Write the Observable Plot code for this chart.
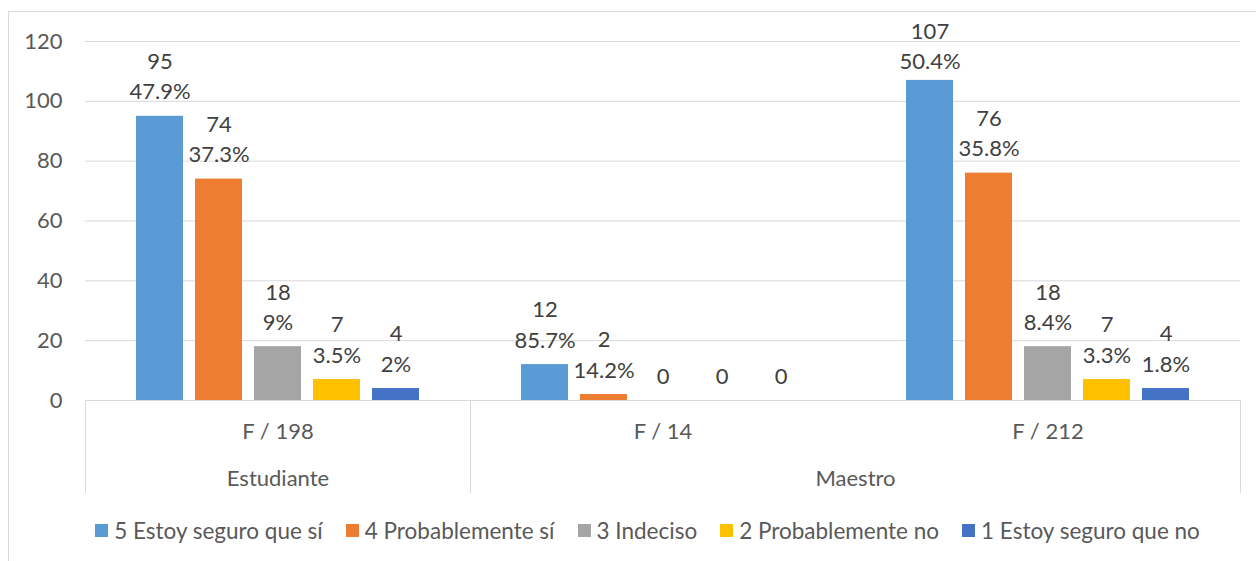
<!DOCTYPE html>
<html><head><meta charset="utf-8">
<script src="https://cdn.jsdelivr.net/npm/d3@7"></script>
<script src="https://cdn.jsdelivr.net/npm/@observablehq/plot@0.6"></script>
<style>
body{margin:0;background:#fff;font-family:Lato, sans-serif;}
#wrap{position:relative;width:1256px;height:561px;overflow:hidden;background:#fff;}
#frame{position:absolute;left:8px;top:11px;width:1300px;height:600px;border-left:1px solid #d9d9d9;border-top:1px solid #d9d9d9;}
#chart{position:absolute;left:0;top:0;}
#legend{position:absolute;left:0;top:515px;width:1256px;display:flex;justify-content:center;}
.lg-swatches{font-family:Lato, sans-serif !important;font-size:22.5px !important;color:#595959 !important;min-height:30px;margin-left:62px !important;}
.lg-swatch{margin-right:23px !important;}
.lg-swatch svg{margin-right:6px !important;}
</style></head><body>
<div id="wrap"><div id="frame"></div><div id="chart"></div><div id="legend"></div></div>
<script>
const groups = ["F / 198", "F / 14", "F / 212"];
const parents = ["Estudiante", "Maestro", "Maestro"];
const series = ["5 Estoy seguro que sí", "4 Probablemente sí", "3 Indeciso", "2 Probablemente no", "1 Estoy seguro que no"];
const colors = ["#5B9BD5", "#ED7D31", "#A5A5A5", "#FFC000", "#4472C4"];
const values5 = [95, 12, 107];
const values4 = [74, 2, 76];
const values3 = [18, 0, 18];
const values2 = [7, 0, 7];
const values1 = [4, 0, 4];
const pct5 = ["47.9%", "85.7%", "50.4%"];
const pct4 = ["37.3%", "14.2%", "35.8%"];
const pct3 = ["9%", null, "8.4%"];
const pct2 = ["3.5%", null, "3.3%"];
const pct1 = ["2%", null, "1.8%"];
const yTicks = [0, 20, 40, 60, 80, 100, 120];

const valueLists = [values5, values4, values3, values2, values1];
const pctLists = [pct5, pct4, pct3, pct2, pct1];
const rows = [];
groups.forEach((g, gi) => series.forEach((s, si) => rows.push({group: g, parent: parents[gi], series: s, value: valueLists[si][gi], pct: pctLists[si][gi]})));

// parent spans
const spans = [];
parents.forEach((p, i) => {
  const last = spans[spans.length - 1];
  if (last && last.label === p) last.groups.push(groups[i]); else spans.push({label: p, groups: [groups[i]]});
});
const oddSpans = spans.filter(s => s.groups.length % 2 === 1).map(s => ({label: s.label, group: s.groups[(s.groups.length - 1) / 2]}));
const evenSpans = spans.filter(s => s.groups.length % 2 === 0).map(s => ({label: s.label, group: s.groups[s.groups.length / 2 - 1]}));

// labels are kept inside the chart area (as the spreadsheet does)
const labelCap = 105;

const font = "Lato, sans-serif";
const fs = 22;
const chart = Plot.plot({
  width: 1256, height: 505,
  marginLeft: 85, marginRight: 16, marginTop: 41, marginBottom: 105,
  style: {fontFamily: font, fontSize: fs + "px", color: "#595959", background: "transparent", overflow: "visible"},
  fx: {domain: groups, padding: 0, label: null, axis: null},
  x: {domain: series, paddingInner: 0.2, paddingOuter: 0.86, axis: null},
  y: {domain: [0, 120], label: null, axis: null},
  color: {domain: series, range: colors},
  marks: [
    Plot.gridY(yTicks, {stroke: "#d9d9d9", strokeOpacity: 1}),
    Plot.axisY(yTicks, {tickSize: 0, tickPadding: 23, label: null, fill: "#595959", fontSize: fs}),
    Plot.barY(rows, {fx: "group", x: "series", y: "value", fill: "series"}),
    Plot.ruleY([0], {stroke: "#d9d9d9"}),
    Plot.text(rows, {fx: "group", x: "series", y: d => Math.min(d.value, labelCap), text: d => d.pct ? d.value + "\n" + d.pct : String(d.value), lineAnchor: "bottom", lineHeight: 1.37, dy: -17, fill: "#404040", fontSize: fs}),
    Plot.axisFx({anchor: "bottom", tickSize: 0, tickPadding: 23, label: null, fill: "#595959", fontSize: fs}),
    Plot.text(oddSpans, {fx: "group", text: "label", frameAnchor: "bottom", dy: 85, fill: "#595959", fontSize: fs}),
    Plot.text(evenSpans, {fx: "group", text: "label", frameAnchor: "bottom-right", textAnchor: "middle", dy: 85, fill: "#595959", fontSize: fs})
  ]
});
document.getElementById("chart").appendChild(chart);

// category separator lines below the axis, from the library's scales
const fxs = chart.scale("fx");
const ys = chart.scale("y");
const y0 = ys.apply(0);
const edges = [fxs.apply(groups[0])];
let acc = 0;
spans.forEach(s => { acc += s.groups.length; const g = groups[acc - 1]; edges.push(fxs.apply(g) + fxs.bandwidth); });
d3.select(chart).append("g").selectAll("line").data(edges).join("line")
  .attr("x1", d => Math.round(d) + 0.5).attr("x2", d => Math.round(d) + 0.5)
  .attr("y1", y0).attr("y2", y0 + 93)
  .attr("stroke", "#d9d9d9");

const legend = Plot.legend({color: {domain: series, range: colors}, legend: "swatches", swatchSize: 13, className: "lg"});
document.getElementById("legend").appendChild(legend);
</script>
</body></html>
